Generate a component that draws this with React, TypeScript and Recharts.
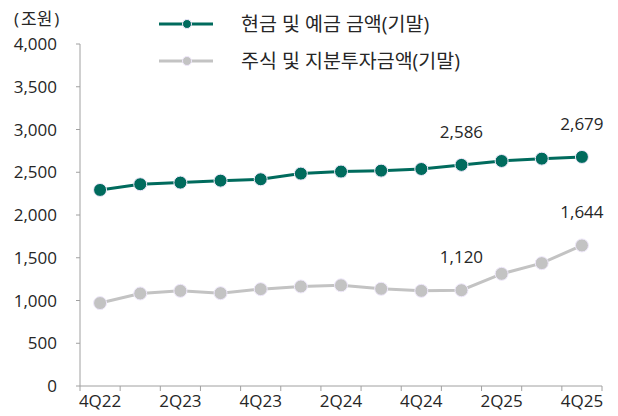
import React from 'react';
import { LineChart, Line, XAxis, YAxis, LabelList } from 'recharts';

const quarters = ['4Q22', '1Q23', '2Q23', '3Q23', '4Q23', '1Q24', '2Q24', '3Q24', '4Q24', '1Q25', '2Q25', '3Q25', '4Q25'];
const cashDeposits = [2293, 2360, 2379, 2402, 2418, 2484, 2508, 2519, 2538, 2586, 2632, 2659, 2679];
const equityInvest = [970, 1082, 1113, 1086, 1133, 1164, 1178, 1137, 1113, 1120, 1312, 1437, 1644];
const yTicks = [0, 500, 1000, 1500, 2000, 2500, 3000, 3500, 4000];
const labeledIndexes = [9, 12];
const seriesNames = ['현금 및 예금 금액(기말)', '주식 및 지분투자금액(기말)'];
const unitText = '조원';

const data = quarters.map((q, i) => ({ q, cash: cashDeposits[i], equity: equityInvest[i] }));

const W = 618;
const H = 416;
const MARGIN = { top: 44, right: 16, bottom: 0, left: 0 };
const Y_AXIS_W = 80;
const X_AXIS_H = 30;
const PLOT_W = W - MARGIN.left - MARGIN.right - Y_AXIS_W;
const BAND = PLOT_W / quarters.length;

const FONT = "'Open Sans', 'Noto Sans CJK KR', sans-serif";
const TEXT = '#262626';
const AXIS = '#A0A0A0';
const GREEN = '#006B5D';
const GREY = '#C3C3C3';
const HALO = '#EFE8FB';

function XTick(props: any) {
  const { x, y, payload, index } = props;
  const left = x - BAND / 2;
  const right = x + BAND / 2;
  return (
    <g>
      <line x1={left} y1={y} x2={left} y2={y + 5} stroke={AXIS} strokeWidth={1} />
      {index === quarters.length - 1 && (
        <line x1={right} y1={y} x2={right} y2={y + 5} stroke={AXIS} strokeWidth={1} />
      )}
      {index % 2 === 0 && (
        <text x={x} y={y + 9} dy="0.71em" textAnchor="middle" fill={TEXT} fontSize={17} fontFamily={FONT}>
          {payload.value}
        </text>
      )}
    </g>
  );
}

function makeLabel() {
  return (p: any) => {
    const { x, y, value, index } = p;
    if (!labeledIndexes.includes(index)) return null;
    return (
      <text x={x} y={y - 33} dy="0.35em" textAnchor="middle" fill={TEXT} fontSize={17} fontFamily={FONT}>
        {Number(value).toLocaleString('en-US')}
      </text>
    );
  };
}

function LegendRow({ color, label, top }: { color: string; label: string; top: number }) {
  return (
    <div style={{ position: 'absolute', left: 159, top, height: 24, display: 'flex', alignItems: 'center' }}>
      <svg width={54} height={24} style={{ display: 'block' }}>
        <line x1={0} y1={12} x2={54} y2={12} stroke={color} strokeWidth={3} />
        <circle cx={28} cy={12} r={4.5} fill={color} stroke={HALO} strokeWidth={1} />
      </svg>
      <span style={{ marginLeft: 28, fontSize: 19.5, color: TEXT, fontFamily: FONT, whiteSpace: 'nowrap', lineHeight: '24px' }}>
        {label}
      </span>
    </div>
  );
}

export default function App() {
  return (
    <div style={{ position: 'absolute', left: 0, top: 0, width: W, height: H, background: '#fff' }}>
      <div
        style={{
          position: 'absolute',
          left: 14,
          top: 7,
          fontSize: 17,
          lineHeight: '24px',
          color: TEXT,
          fontFamily: FONT,
          whiteSpace: 'nowrap',
        }}
      >
        <span>(</span>
        <span style={{ padding: '0 2px' }}>{unitText}</span>
        <span>)</span>
      </div>
      <LegendRow color={GREEN} label={seriesNames[0]} top={12} />
      <LegendRow color={GREY} label={seriesNames[1]} top={49} />
      <LineChart width={W} height={H} data={data} margin={MARGIN}>
        <XAxis
          dataKey="q"
          scale="band"
          height={X_AXIS_H}
          interval={0}
          tickLine={false}
          tickSize={0}
          tickMargin={0}
          axisLine={{ stroke: AXIS, strokeWidth: 1 }}
          tick={<XTick />}
        />
        <YAxis
          width={Y_AXIS_W}
          domain={[0, 4000]}
          ticks={yTicks}
          interval={0}
          tickSize={4}
          tickMargin={19}
          axisLine={{ stroke: AXIS, strokeWidth: 1 }}
          tickLine={{ stroke: AXIS, strokeWidth: 1 }}
          tick={{ fill: TEXT, fontSize: 17, fontFamily: FONT }}
          tickFormatter={(v: number) => v.toLocaleString('en-US')}
        />
        <Line
          dataKey="cash"
          name={seriesNames[0]}
          stroke={GREEN}
          strokeWidth={3}
          dot={{ r: 6.5, fill: GREEN, stroke: HALO, strokeWidth: 1 }}
          activeDot={false}
          isAnimationActive={false}
        >
          <LabelList dataKey="cash" content={makeLabel()} />
        </Line>
        <Line
          dataKey="equity"
          name={seriesNames[1]}
          stroke={GREY}
          strokeWidth={3}
          dot={{ r: 6.5, fill: GREY, stroke: HALO, strokeWidth: 1 }}
          activeDot={false}
          isAnimationActive={false}
        >
          <LabelList dataKey="equity" content={makeLabel()} />
        </Line>
      </LineChart>
    </div>
  );
}
